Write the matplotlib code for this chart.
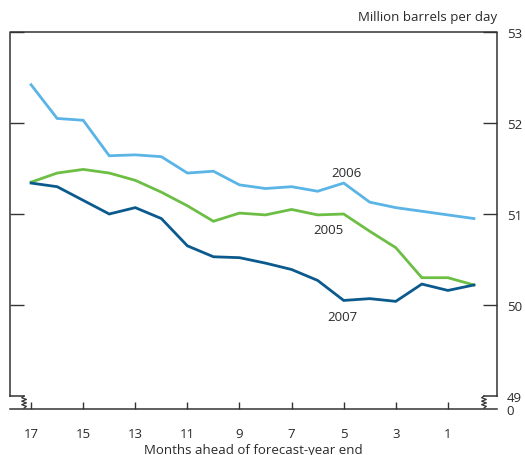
import matplotlib
matplotlib.use("Agg")
import matplotlib.pyplot as plt
import numpy as np

plt.rcParams['font.family'] = ['Open Sans', 'DejaVu Sans']

months = [17, 16, 15, 14, 13, 12, 11, 10, 9, 8, 7, 6, 5, 4, 3, 2, 1, 0]
y2006 = [52.42, 52.05, 52.03, 51.64, 51.65, 51.63, 51.45, 51.47, 51.32, 51.28, 51.30, 51.25, 51.34, 51.13, 51.07, 51.03, 50.99, 50.95]
y2005 = [51.35, 51.45, 51.49, 51.45, 51.37, 51.24, 51.09, 50.92, 51.01, 50.99, 51.05, 50.99, 51.00, 50.81, 50.63, 50.30, 50.30, 50.22]
y2007 = [51.34, 51.30, 51.15, 51.00, 51.07, 50.95, 50.65, 50.53, 50.52, 50.46, 50.39, 50.27, 50.05, 50.07, 50.04, 50.23, 50.16, 50.22]
xticks = [17, 15, 13, 11, 9, 7, 5, 3, 1]
yticks = [50, 51, 52, 53]

c2006 = '#5ab4e5'
c2005 = '#6dbe45'
c2007 = '#0b5a8e'
frame = '#333333'
tcol = '#2a2a2a'

fig = plt.figure(figsize=(5.25, 4.56), dpi=100)
W, H = 525, 456
ax = fig.add_axes([10 / W, (H - 410) / H, (497 - 10) / W, (410 - 33) / H])
ylo = 53 - 377 / 91.0
ax.set_ylim(ylo, 53)
ax.set_xlim(17.81, -0.885)

for s in ax.spines.values():
    s.set_visible(False)

lw = 2.0
ax.plot(months, y2006, color=c2006, lw=lw, solid_joinstyle='miter')
ax.plot(months, y2005, color=c2005, lw=lw, solid_joinstyle='miter')
ax.plot(months, y2007, color=c2007, lw=lw, solid_joinstyle='miter')

ax.text(4.88, 51.46, '2006', fontsize=9.5, color=tcol, ha='center', va='center')
ax.text(5.6, 50.83, '2005', fontsize=9.5, color=tcol, ha='center', va='center')
ax.text(5.04, 49.87, '2007', fontsize=9.5, color=tcol, ha='center', va='center')

# frame
fl = 1.1
x0, x1 = ax.get_xlim()
xl_break = 17.27
xr_break = -0.385
ax.plot([x0, x0, x1, x1], [49, 53, 53, 49], color=frame, lw=fl, clip_on=False)
ax.plot([x0, xl_break], [49, 49], color=frame, lw=fl, clip_on=False)
ax.plot([x1, xr_break], [49, 49], color=frame, lw=fl, clip_on=False)
ax.plot([x0, x1], [ylo, ylo], color=frame, lw=fl, clip_on=False)

def zig(xc):
    n = 6
    ys = np.linspace(49, ylo + 0.01, n + 2)
    dx = 0.09
    xs = [xc] + [xc + (dx if i % 2 == 0 else -dx) for i in range(n)] + [xc]
    ax.plot(xs, ys, color=frame, lw=0.9, clip_on=False)

zig(xl_break)
zig(xr_break)

ax.set_xticks(xticks)
ax.set_xticklabels([str(t) for t in xticks])
ax.tick_params(axis='x', direction='in', length=5, width=1.0, color=frame,
               labelsize=9.5, labelcolor=tcol, pad=13)
ax.set_yticks([ylo, 49] + yticks)
ax.set_yticklabels(['0', '49'] + [str(t) for t in yticks])
ax.tick_params(axis='y', direction='in', length=10, width=1.0, color=frame,
               left=True, right=True, labelleft=False, labelright=True,
               labelsize=9.5, labelcolor=tcol, pad=7)
for t in ax.yaxis.get_major_ticks()[:2]:
    t.tick1line.set_visible(False)
    t.tick2line.set_visible(False)

ax.set_xlabel('Months ahead of forecast-year end', fontsize=9.5, color=tcol, labelpad=2)
fig.text(497 / W, (H - 18) / H, 'Million barrels per day', fontsize=9.5,
         color=tcol, ha='right', va='center')

fig.savefig('out.png', dpi=100)
